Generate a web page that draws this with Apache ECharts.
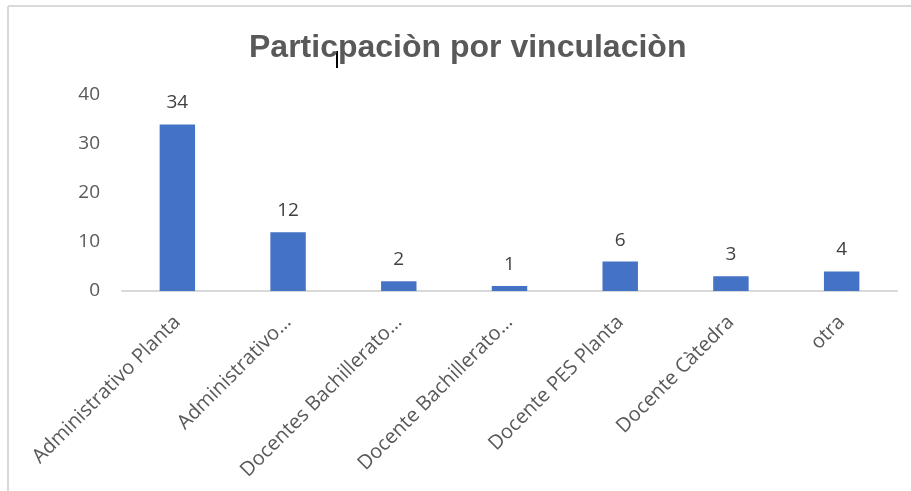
<!DOCTYPE html>
<html>
<head>
<meta charset="utf-8">
<script src="https://cdn.jsdelivr.net/npm/echarts@6/dist/echarts.min.js"></script>
<style>
  html, body { margin: 0; padding: 0; background: #fff; }
  #chart { width: 911px; height: 491px; }
</style>
</head>
<body>
<div id="chart"></div>
<script>
// datos del grafico
var categorias = ['Administrativo Planta', 'Administrativo…', 'Docentes Bachillerato…', 'Docente Bachillerato…', 'Docente PES Planta', 'Docente Càtedra', 'otra'];
var valores = [34, 12, 2, 1, 6, 3, 4];
var ticksY = [0, 10, 20, 30, 40];

var chart = echarts.init(document.getElementById('chart'));

var textColor = '#595959'; // color de los textos
var barColor = '#4472c4';

var option = {
    animation: false,
    title: {
        text: 'Particpaciòn por vinculaciòn',
        left: 244,
        top: 27,
        textStyle: {
            fontFamily: 'Liberation Sans',
            fontSize: 32,
            fontWeight: 'bold',
            color: textColor
        }
    },
    graphic: [
        // borde del area del grafico
        { type: 'line', shape: { x1: 8, y1: 6, x2: 911, y2: 6 }, style: { stroke: '#d9d9d9', lineWidth: 2 } },
        { type: 'line', shape: { x1: 8, y1: 6, x2: 8, y2: 491 }, style: { stroke: '#d9d9d9', lineWidth: 2 } },
        // cursor de texto
        { type: 'rect', shape: { x: 336, y: 51, width: 2, height: 17 }, style: { fill: '#000' } }
    ],
    grid: {
        left: 122,
        right: 14,
        top: 95,
        bottom: 200
    },
    xAxis: {
        type: 'category',
        data: categorias,
        axisLine: { lineStyle: { color: '#d9d9d9', width: 2 } },
        axisTick: { show: false },
        axisLabel: {
            rotate: 45,
            interval: 0,
            margin: 28,
            fontFamily: 'Open Sans',
            fontSize: 20,
            color: textColor
        }
    },
    yAxis: {
        type: 'value',
        min: ticksY[0],
        max: ticksY[ticksY.length - 1],
        interval: 10,
        splitLine: { show: false },
        axisLine: { show: false },
        axisTick: { show: false },
        axisLabel: {
            margin: 22,
            fontFamily: 'Open Sans',
            fontSize: 19,
            color: textColor
        }
    },
    series: [{
        type: 'bar',
        data: valores,
        barWidth: '32%',
        itemStyle: { color: barColor },
        label: {
            show: true,
            position: 'top',
            distance: 12,
            fontFamily: 'Open Sans',
            fontSize: 19,
            color: '#404040'
        }
    }]
};

chart.setOption(option);
</script>
</body>
</html>
